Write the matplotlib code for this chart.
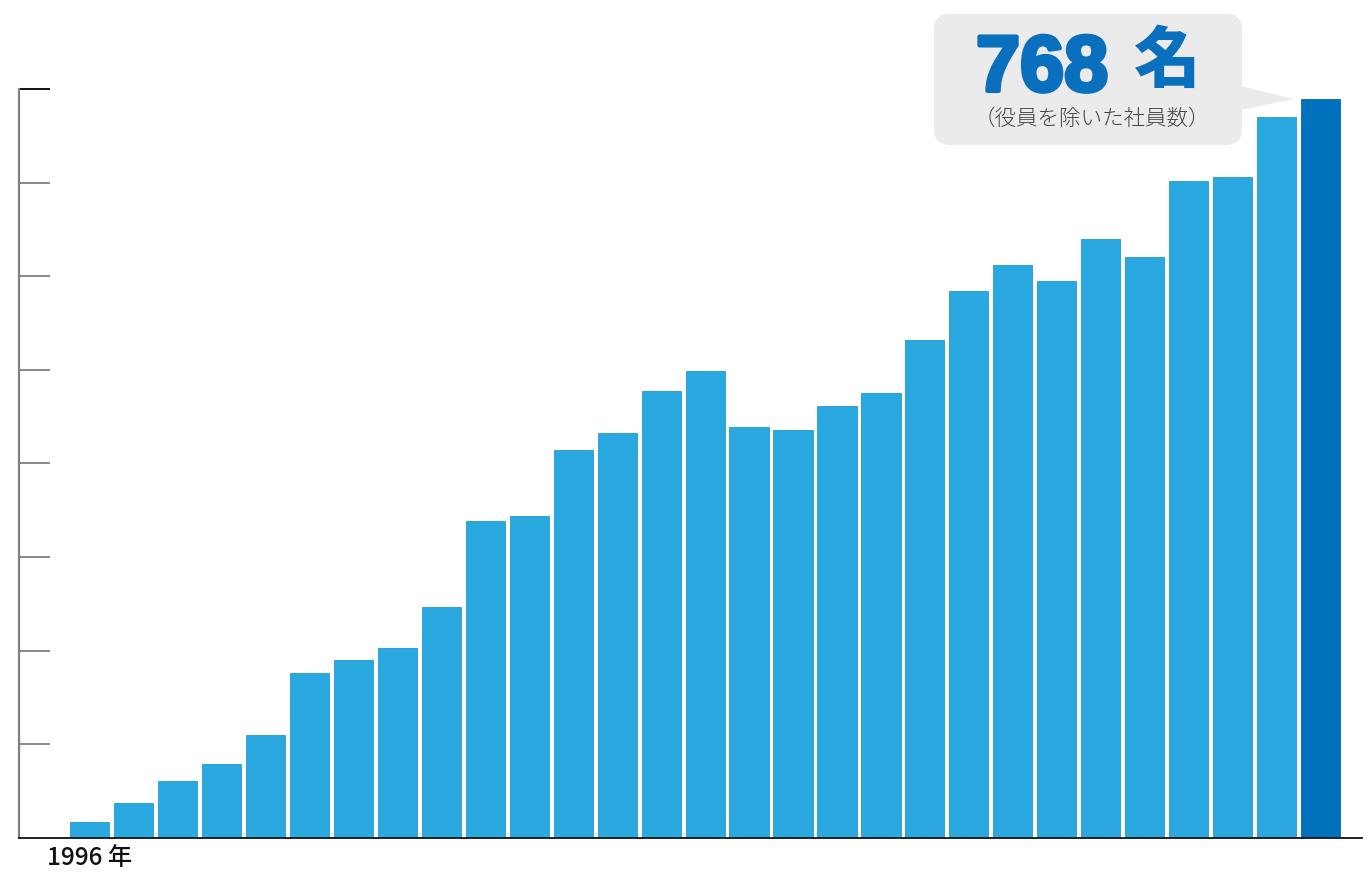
import matplotlib
matplotlib.use("Agg")
import matplotlib.pyplot as plt
import matplotlib.patheffects as pe
import numpy as np
from matplotlib.patches import FancyBboxPatch, Polygon

# ---- data ----
years = list(range(1996, 2025))
employees = [17, 36, 59, 77, 107, 171, 185, 197, 240, 329, 335, 403, 421, 465, 485,
             427, 424, 449, 462, 518, 568, 595, 579, 622, 604, 683, 687, 749, 768]
first_label = "1996 年"
callout_value = "768"
callout_unit = "名"
callout_note = "（役員を除いた社員数）"

LIGHT = "#2aa9e1"
DARK = "#0071bd"
TXT_BLUE = "#0a70bd"

W, H = 1369, 872
fig = plt.figure(figsize=(W / 100, H / 100), dpi=100)
fig.patch.set_facecolor("white")

left_px, right_px, top_px, base_px = 19, 1362, 89, 838
ax = fig.add_axes([left_px / W, (H - base_px) / H, (right_px - left_px) / W, (base_px - top_px) / H])

x = np.arange(len(years))
colors = [LIGHT] * (len(years) - 1) + [DARK]
edges = ["#1f98cf"] * (len(years) - 1) + ["#0066ab"]
ax.bar(x, employees, width=0.89, color=colors, edgecolor=edges, linewidth=0.6, zorder=2)

ymax = 749 * 768 / 739
ax.set_ylim(0, ymax)
spacing = 43.97
ax.set_xlim((left_px - 89.5) / spacing, (right_px - 89.5) / spacing)

for s in ["top", "right"]:
    ax.spines[s].set_visible(False)
ax.spines["left"].set_color("#808080")
ax.spines["left"].set_linewidth(1.6)
ax.spines["bottom"].set_color("#111111")
ax.spines["bottom"].set_linewidth(1.3)

levels = np.linspace(0, ymax, 9)
ax.set_yticks(levels[1:-1])
ax.set_yticks([levels[-1]], minor=True)
ax.set_yticklabels([])
ax.tick_params(axis="y", which="major", direction="in", length=22.5, width=1.3, color="#808080")
ax.tick_params(axis="y", which="minor", direction="in", length=22.5, width=1.4, color="#111111")

ax.set_xticks([0])
ax.set_xticklabels([first_label], family=["Noto Sans CJK JP", "DejaVu Sans"], fontsize=17.5,
                   color="#111111", fontweight="medium")
ax.tick_params(axis="x", length=0, pad=5)

# overlay axes in pixel coordinates for the callout
ov = fig.add_axes([0, 0, 1, 1], zorder=5)
ov.set_xlim(0, W)
ov.set_ylim(H, 0)
ov.axis("off")
ov.patch.set_alpha(0)

box = FancyBboxPatch((934 + 16, 14 + 16), 308 - 32, 131 - 32,
                     boxstyle="round,pad=16", facecolor="#ebebeb", edgecolor="none")
ov.add_patch(box)
tri = Polygon([(1240, 86), (1294, 99), (1240, 110)], closed=True, facecolor="#ebebeb", edgecolor="none")
ov.add_patch(tri)

ov.text(1042, 91, callout_value, ha="center", va="baseline", fontsize=57, color=TXT_BLUE,
        family=["Liberation Sans", "DejaVu Sans"], fontweight="bold",
        path_effects=[pe.withStroke(linewidth=3, foreground=TXT_BLUE)])
ov.text(1167, 62, callout_unit, ha="center", va="center", fontsize=48, color=TXT_BLUE,
        family=["Noto Sans CJK JP"], fontweight=900)
ov.text(1092, 119, callout_note, ha="center", va="center", fontsize=15.5, color="#444444",
        family=["Noto Sans CJK JP"], fontweight="light")

fig.savefig("out.png", dpi=100, facecolor="white")
